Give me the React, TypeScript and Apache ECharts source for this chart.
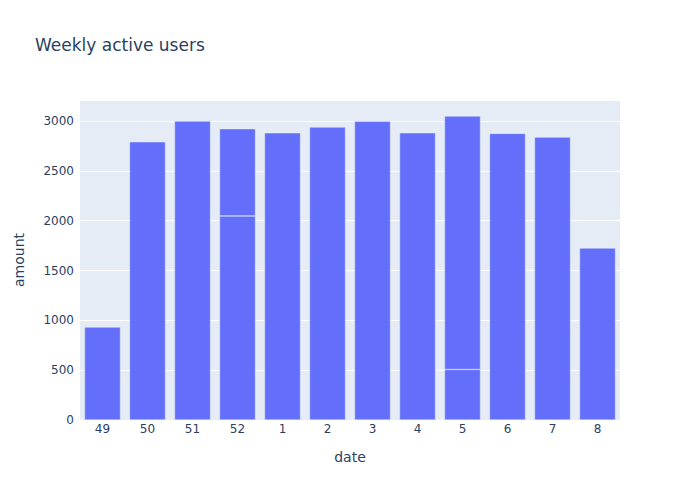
import React, { useEffect, useRef } from "react";
import * as echarts from "echarts";

const weeks = ["49", "50", "51", "52", "1", "2", "3", "4", "5", "6", "7", "8"];
const baseValues = [933, 2792, 3000, 2048, 2882, 2940, 2997, 2882, 507, 2876, 2839, 1726];
const extraValues = [null, null, null, 875, null, null, null, null, 2543, null, null, null];
const yTicks = [0, 500, 1000, 1500, 2000, 2500, 3000];

export default function App() {
  const ref = useRef<HTMLDivElement>(null);
  useEffect(() => {
    if (!ref.current) return;
    const chart = echarts.init(ref.current, undefined, { renderer: "svg" });
    const textColor = "#2a3f5f";
    const font = "'DejaVu Sans', verdana, arial, sans-serif";
    chart.setOption({
      animation: false,
      textStyle: { fontFamily: font },
      title: {
        text: "Weekly active users",
        left: 30,
        top: 31,
        textStyle: { fontFamily: font, fontSize: 17, fontWeight: "normal", color: textColor },
      },
      grid: {
        left: 80,
        right: 80,
        top: 100,
        bottom: 80,
        show: true,
        backgroundColor: "#E5ECF6",
        borderWidth: 0,
      },
      xAxis: {
        type: "category",
        data: weeks,
        name: "date",
        nameLocation: "middle",
        nameGap: 30,
        nameTextStyle: { fontSize: 14, color: textColor, fontFamily: font },
        axisLine: { show: false },
        axisTick: { show: false },
        axisLabel: { color: textColor, fontSize: 12, margin: 3, fontFamily: font },
      },
      yAxis: {
        type: "value",
        min: 0,
        max: 3211,
        interval: 500,
        name: "amount",
        nameLocation: "middle",
        nameGap: 54,
        nameTextStyle: { fontSize: 14, color: textColor, fontFamily: font },
        axisLine: { show: false },
        axisTick: { show: false },
        splitLine: { lineStyle: { color: "#ffffff", width: 1 } },
        axisLabel: {
          color: textColor,
          fontSize: 12,
          margin: 6,
          fontFamily: font,
          showMaxLabel: false,
          formatter: (v: number) => (yTicks.includes(v) ? String(v) : ""),
        },
      },
      series: [
        {
          type: "bar",
          stack: "total",
          data: baseValues,
          barCategoryGap: "20%",
          itemStyle: { color: "#636efa", borderColor: "#E5ECF6", borderWidth: 0.5 },
        },
        {
          type: "bar",
          stack: "total",
          data: extraValues,
          barCategoryGap: "20%",
          itemStyle: { color: "#636efa", borderColor: "#E5ECF6", borderWidth: 0.5 },
        },
      ],
    });
    return () => chart.dispose();
  }, []);
  return <div ref={ref} style={{ width: 700, height: 500, position: "absolute", left: 0, top: 0 }} />;
}
